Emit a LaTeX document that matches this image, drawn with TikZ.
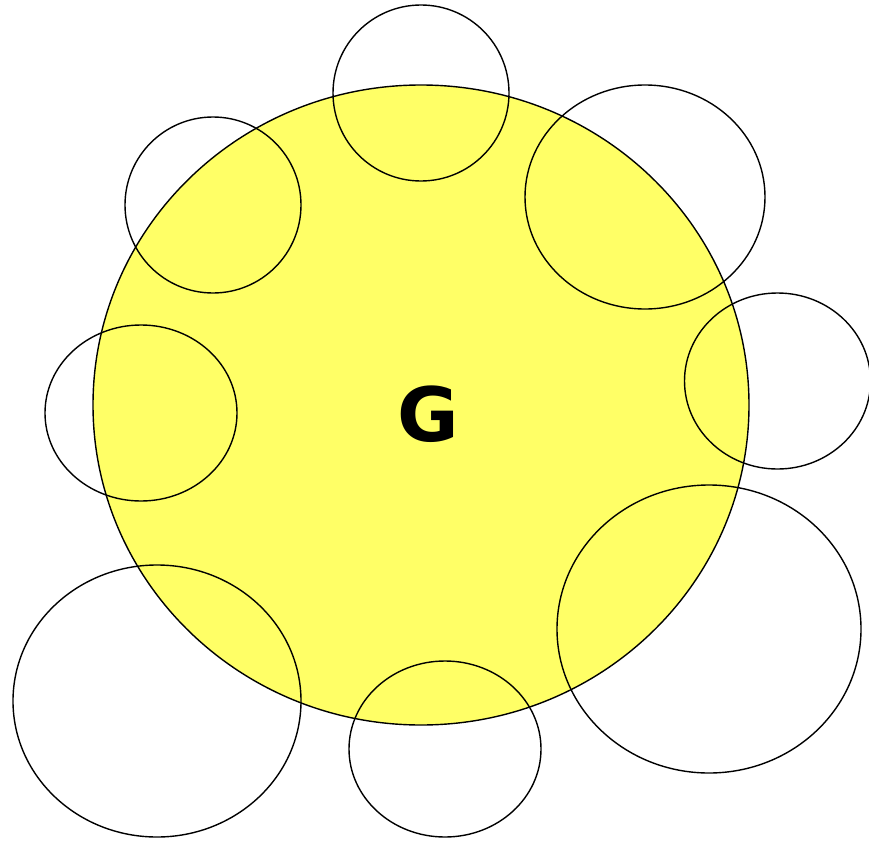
\documentclass[tikz,border=0pt]{standalone}
\usepackage{fontspec}
\setmainfont{DejaVu Sans}
\usetikzlibrary{shapes.geometric}
\definecolor{gyellow}{HTML}{FFFF66}
\tikzset{
  blob/.style args={#1x#2}{ellipse, draw=black, line width=1.4pt, inner sep=0pt,
    minimum width=#1pt, minimum height=#2pt},
}
\begin{document}
\begin{tikzpicture}[x=1pt,y=-1pt]
\useasboundingbox (0,0) rectangle (869,840);
\node[blob=656x640, fill=gyellow] (G) at (421,405) {};
\node[font=\bfseries\fontsize{75}{80}\selectfont] (Glabel) at (428.5,414) {G};
\node[blob=176x176] (e1) at (421,93) {};
\node[blob=176x176] (e2) at (213,205) {};
\node[blob=240x224] (e3) at (645,197) {};
\node[blob=186x176] (e4) at (777.5,381) {};
\node[blob=192x176] (e5) at (141,413) {};
\node[blob=288x272] (e6) at (157,701) {};
\node[blob=192x176] (e7) at (445,749) {};
\node[blob=304x288] (e8) at (709,629) {};
\end{tikzpicture}
\end{document}
